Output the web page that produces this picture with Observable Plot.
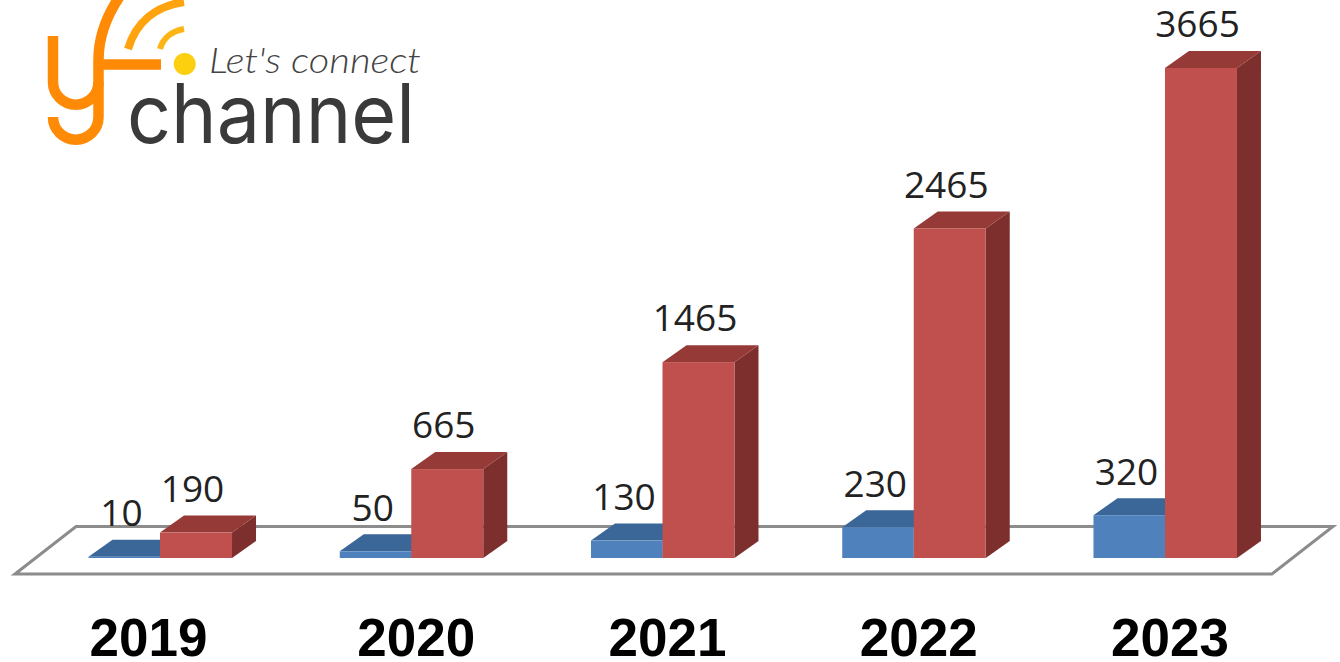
<!DOCTYPE html>
<html>
<head>
<meta charset="utf-8">
<script src="https://cdn.jsdelivr.net/npm/d3@7"></script>
<script src="https://cdn.jsdelivr.net/npm/@observablehq/plot@0.6"></script>
<style>
html,body{margin:0;padding:0;background:#fff;overflow:hidden}
#wrap{position:relative;width:1340px;height:662px}
#wrap>svg{position:absolute;left:0;top:0}
</style>
</head>
<body>
<div id="wrap">
<svg id="logo" width="440" height="160" viewBox="0 0 440 160" style="z-index:2">
  <g fill="none" stroke="#ff8a05" stroke-width="10.5">
    <path d="M53 36V82A22.5 22.5 0 0 0 98.5 82"/>
    <path d="M53 117A22.7 22.7 0 0 0 98.5 117V60C98.5 35 107 15 120 -4"/>
    <path d="M100 64.5H161"/>
  </g>
  <path d="M128 49C136 22 156 6 184 2" fill="none" stroke="#ffa30f" stroke-width="8"/>
  <path d="M160 49C163 38 172 31 184 29" fill="none" stroke="#fdb515" stroke-width="6"/>
  <circle cx="184.7" cy="64" r="11" fill="#fccf0f"/>
  <text x="209" y="73" font-family="Lato" font-style="italic" font-weight="300" font-size="36" fill="#444" textLength="212" lengthAdjust="spacingAndGlyphs">Let's connect</text>
  <text x="127" y="143" font-family="Inter" font-weight="400" font-size="82" fill="#3a3a3a" textLength="288" lengthAdjust="spacingAndGlyphs">channel</text>
</svg>
<div id="chart"></div>
</div>
<script>
const years = [2019, 2020, 2021, 2022, 2023];
const blueValues = [10, 50, 130, 230, 320];
const redValues = [190, 665, 1465, 2465, 3665];

const width = 1340, height = 662;
const marginLeft = 34.4, marginRight = 49.4, marginTop = 68, marginBottom = 104;
const step = (width - marginLeft - marginRight) / years.length;
const barWidth = 72, depthX = 24, depthY = 17;

const blue = years.map((year, i) => ({year, value: blueValues[i]}));
const red = years.map((year, i) => ({year, value: redValues[i]}));

function prism(topColor, sideColor) {
  return (index, scales, values, dimensions, context, next) => {
    const g = next(index, scales, values, dimensions, context);
    d3.select(g).selectAll("rect").each(function () {
      const x = +this.getAttribute("x"), y = +this.getAttribute("y");
      const w = +this.getAttribute("width"), h = +this.getAttribute("height");
      const parent = this.parentNode;
      const top = document.createElementNS("http://www.w3.org/2000/svg", "polygon");
      top.setAttribute("points", [[x, y], [x + depthX, y - depthY], [x + w + depthX, y - depthY], [x + w, y]].join(" "));
      top.setAttribute("fill", topColor);
      const side = document.createElementNS("http://www.w3.org/2000/svg", "polygon");
      side.setAttribute("points", [[x + w, y], [x + w + depthX, y - depthY], [x + w + depthX, y + h - depthY], [x + w, y + h]].join(" "));
      side.setAttribute("fill", sideColor);
      parent.insertBefore(side, this);
      parent.insertBefore(top, this);
    });
    return g;
  };
}

function floor(index, scales, values, dimensions, context, next) {
  const g = next(index, scales, values, dimensions, context);
  const half = step / 2;
  const x0 = scales.x(years[0]) + half, x1 = scales.x(years[years.length - 1]) + half;
  const y0 = scales.y(0);
  const poly = document.createElementNS("http://www.w3.org/2000/svg", "polygon");
  poly.setAttribute("points", [[x0 - 145, y0 + 15.5], [x0 - 84, y0 - 32], [x1 + 168, y0 - 32], [x1 + 107, y0 + 15.5]].join(" "));
  poly.setAttribute("fill", "none");
  poly.setAttribute("stroke", "#8c8c8c");
  poly.setAttribute("stroke-width", "3");
  g.appendChild(poly);
  return g;
}

const chart = Plot.plot({
  width, height, marginLeft, marginRight, marginTop, marginBottom,
  style: {background: "transparent", overflow: "visible"},
  x: {type: "band", domain: years, padding: 0, round: false, axis: null},
  y: {domain: [0, 3665], axis: null},
  marks: [
    Plot.ruleY([0], {stroke: "none", render: floor}),
    Plot.barY(blue, {x: "year", y: "value", fill: "#4f81bd",
      insetLeft: step / 2 - barWidth + 0.5, insetRight: step / 2,
      render: prism("#3a6698", "#3a6698")}),
    Plot.barY(red, {x: "year", y: "value", fill: "#c0504d",
      insetLeft: step / 2, insetRight: step / 2 - barWidth,
      render: prism("#963a38", "#7d2f2d")}),
    Plot.text(blue, {x: "year", y: "value", text: d => String(d.value), dx: -39, dy: -43,
      fontFamily: "Open Sans", fontSize: 37, fill: "#222"}),
    Plot.text(red, {x: "year", y: "value", text: d => String(d.value), dx: 32, dy: -43,
      fontFamily: "Open Sans", fontSize: 37, fill: "#222"}),
    Plot.text(years.slice(0, 1), {x: d => d, y: () => 0, text: d => String(d), dx: -12, dy: 81,
      fontFamily: "Liberation Sans", fontWeight: 700, fontSize: 53, fill: "#000"}),
    Plot.text(years.slice(1), {x: d => d, y: () => 0, text: d => String(d), dx: 4.5, dy: 81,
      fontFamily: "Liberation Sans", fontWeight: 700, fontSize: 53, fill: "#000"})
  ]
});
document.getElementById("chart").appendChild(chart);
</script>
</body>
</html>
